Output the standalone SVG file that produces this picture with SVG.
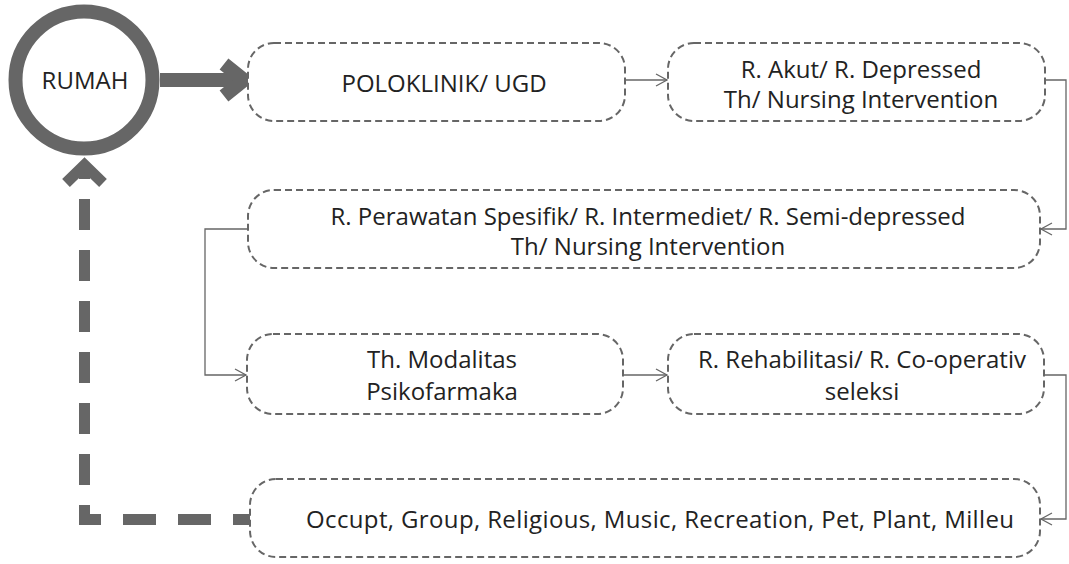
<svg xmlns="http://www.w3.org/2000/svg" width="1069" height="564" viewBox="0 0 1069 564">
<style>
.box{fill:#fff;stroke:#666;stroke-width:2;stroke-dasharray:7 4}
.t{font-family:"Open Sans","Noto Sans",sans-serif;font-size:24px;fill:#222;text-anchor:middle}
.thin{fill:none;stroke:#666;stroke-width:1.3}
.thick{fill:none;stroke:#666;stroke-width:11}
</style>
<defs>
<marker id="open" markerWidth="14" markerHeight="14" refX="12" refY="7" orient="auto" markerUnits="userSpaceOnUse">
<path d="M1,1 L12,7 L1,13" fill="none" stroke="#666" stroke-width="1.3"/>
</marker>
</defs>
<rect width="1069" height="564" fill="#fff"/>
<g id="connectors">
<path d="M160,80 H242" fill="none" stroke="#666" stroke-width="14"/>
<path d="M224,64 L244,80 L224,96" fill="none" stroke="#666" stroke-width="14" stroke-linejoin="miter"/>
<path class="thin" d="M625,80 H667" marker-end="url(#open)"/>
<path class="thin" d="M1045,80 H1066 V229 H1041" marker-end="url(#open)"/>
<path class="thin" d="M248,229 H205 V375 H246" marker-end="url(#open)"/>
<path class="thin" d="M623,375 H667" marker-end="url(#open)"/>
<path class="thin" d="M1045,375 H1066 V519 H1041" marker-end="url(#open)"/>
<path class="thick" d="M250,519.5 H79" stroke-dasharray="33 22" stroke-dashoffset="16"/>
<path class="thick" d="M84.5,525 V170" stroke-dasharray="31 20" stroke-dashoffset="11"/>
<path class="thick" d="M66,183 L84.5,165 L103,183"/>
</g>
<g id="rumah">
<circle cx="84" cy="80" r="68.5" fill="#fff" stroke="#666" stroke-width="14"/>
<text class="t" x="85" y="89">RUMAH</text>
</g>
<g id="poloklinik">
<rect class="box" x="248" y="43" width="377" height="78" rx="26"/>
<text class="t" x="444" y="92">POLOKLINIK/ UGD</text>
</g>
<g id="akut">
<rect class="box" x="668" y="43" width="377" height="78" rx="26"/>
<text class="t" x="861" y="78">R. Akut/ R. Depressed</text>
<text class="t" x="861" y="108">Th/ Nursing Intervention</text>
</g>
<g id="perawatan">
<rect class="box" x="248" y="190" width="792" height="78" rx="26"/>
<text class="t" x="648" y="225">R. Perawatan Spesifik/ R. Intermediet/ R. Semi-depressed</text>
<text class="t" x="648" y="255">Th/ Nursing Intervention</text>
</g>
<g id="modalitas">
<rect class="box" x="247" y="334" width="376" height="80" rx="26"/>
<text class="t" x="442" y="368">Th. Modalitas</text>
<text class="t" x="442" y="400">Psikofarmaka</text>
</g>
<g id="rehabilitasi">
<rect class="box" x="668" y="334" width="376" height="80" rx="26"/>
<text class="t" x="862" y="368">R. Rehabilitasi/ R. Co-operativ</text>
<text class="t" x="862" y="400">seleksi</text>
</g>
<g id="occupt">
<rect class="box" x="250" y="479" width="790" height="78" rx="26"/>
<text class="t" x="660" y="528" textLength="708" lengthAdjust="spacing">Occupt, Group, Religious, Music, Recreation, Pet, Plant, Milleu</text>
</g>
</svg>
